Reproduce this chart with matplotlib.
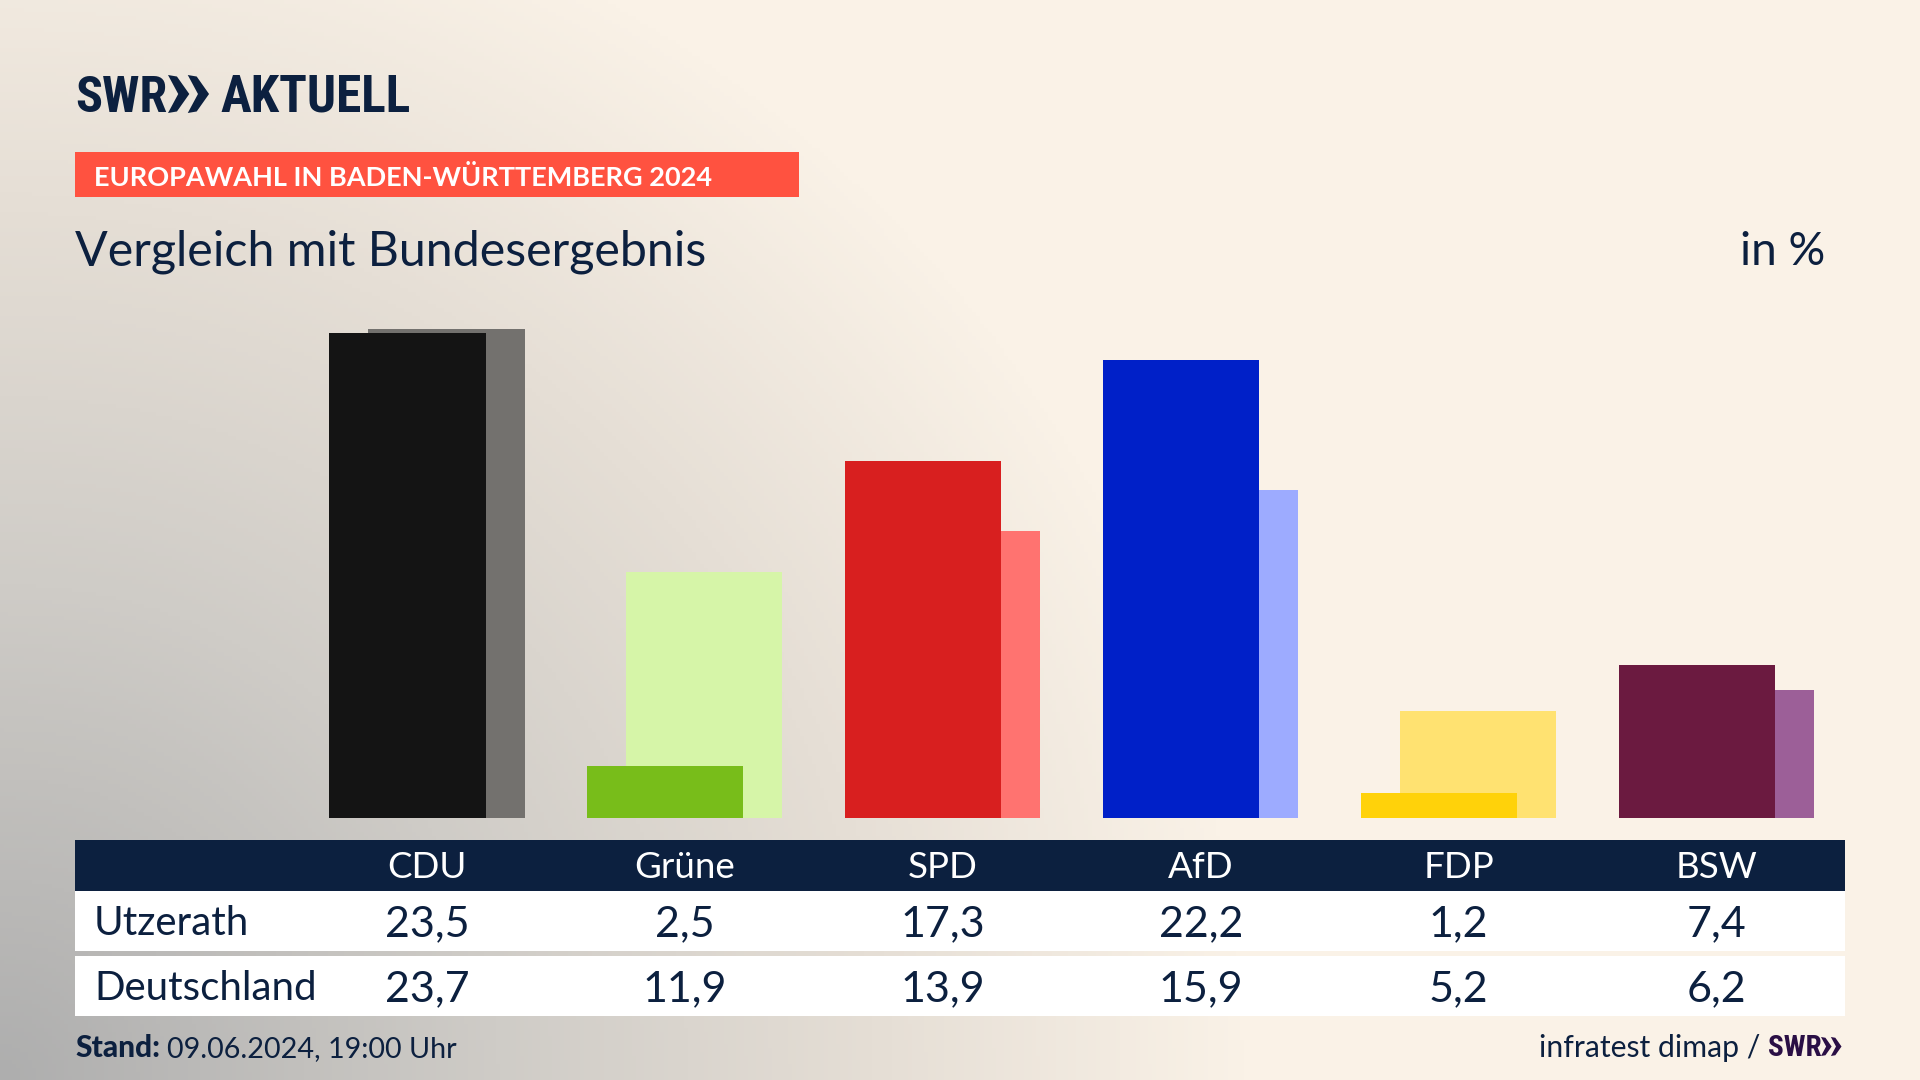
"""SWR Aktuell election graphic: Utzerath vs. Bundesergebnis."""

import matplotlib

matplotlib.use("Agg")
import matplotlib.pyplot as plt
import numpy as np
from matplotlib.colors import LinearSegmentedColormap
from matplotlib.patches import Polygon, Rectangle

PARTIES = ["CDU", "Grüne", "SPD", "AfD", "FDP", "BSW"]
UTZERATH = [23.5, 2.5, 17.3, 22.2, 1.2, 7.4]
DEUTSCHLAND = [23.7, 11.9, 13.9, 15.9, 5.2, 6.2]
FRONT_COLORS = ["#141414", "#78bd1a", "#d81f1f", "#0020c8", "#ffd20a", "#6b1a40"]
BACK_COLORS = ["#73716e", "#d6f5a8", "#ff7370", "#9dabff", "#ffe271", "#9c5f98"]

NAVY = "#0c203f"
FONT = "Lato"
LOGO_FONT = ["Roboto Condensed", "Asap Condensed", "Lato"]
W, H = 1920, 1080

plt.rcParams["font.family"] = [FONT, "DejaVu Sans"]


def chevrons(ax, x, y, h, color):
    # two arrow heads of the SWR logo, pixel coords
    step = h * 0.52
    w = h * 0.56
    for i in range(2):
        x0 = x + i * step
        ax.add_patch(Polygon(
            [(x0, y), (x0 + w * 0.42, y + h * 0.04), (x0 + w, y + h / 2),
             (x0 + w * 0.42, y + h * 0.96), (x0, y + h), (x0 + w * 0.48, y + h / 2)],
            closed=True, facecolor=color, edgecolor="none"))


fig = plt.figure(figsize=(W / 100, H / 100), dpi=100)

# page layer in pixel coordinates
page = fig.add_axes([0, 0, 1, 1])
page.set_xlim(0, W)
page.set_ylim(H, 0)
page.axis("off")

yy, xx = np.mgrid[0:1:270j, 0:1:480j]
dist = np.sqrt((xx / 0.65) ** 2 + ((1 - yy) / 1.15) ** 2)
shade = np.clip(dist, 0, 1)
cmap = LinearSegmentedColormap.from_list(
    "bg", [(0, "#aeaeae"), (0.4, "#cfccc7"), (0.7, "#e5ded5"), (1, "#faf2e7")])
page.imshow(shade, cmap=cmap, extent=(0, W, H, 0), aspect="auto", zorder=0)

# header
page.text(75, 112, "SWR", fontsize=36, fontweight="bold", color=NAVY,
          family=LOGO_FONT, va="baseline", ha="left")
chevrons(page, 168, 75, 38, NAVY)
page.text(220, 112, "AKTUELL", fontsize=37, fontweight="bold", color=NAVY,
          family=LOGO_FONT, va="baseline", ha="left")

page.add_patch(Rectangle((75, 152), 724, 45, facecolor="#ff5240", edgecolor="none"))
page.text(94, 175, "EUROPAWAHL IN BADEN-WÜRTTEMBERG 2024", fontsize=19.5,
          fontweight="bold", color="white", va="center_baseline", ha="left")
page.text(75, 248, "Vergleich mit Bundesergebnis", fontsize=34.8, color=NAVY,
          va="center_baseline", ha="left")
page.text(1825, 248, "in %", fontsize=33, color=NAVY,
          va="center_baseline", ha="right")

# table
page.add_patch(Rectangle((75, 840), 1770, 51, facecolor=NAVY, edgecolor="none"))
page.add_patch(Rectangle((75, 891), 1770, 60, facecolor="white", edgecolor="none"))
page.add_patch(Rectangle((75, 956), 1770, 60, facecolor="white", edgecolor="none"))

centers = 427 + 257.9 * np.arange(len(PARTIES))


def fmt(v):
    return f"{v:.1f}".replace(".", ",")


page.text(94, 920, "Utzerath", fontsize=29, color=NAVY, va="center_baseline")
page.text(94, 985, "Deutschland", fontsize=29, color=NAVY, va="center_baseline")
for cx, party, a, b in zip(centers, PARTIES, UTZERATH, DEUTSCHLAND):
    page.text(cx, 865, party, fontsize=26.5, color="white",
              ha="center", va="center_baseline")
    page.text(cx, 921, fmt(a), fontsize=31, color=NAVY,
              ha="center", va="center_baseline")
    page.text(cx, 986, fmt(b), fontsize=31, color=NAVY,
              ha="center", va="center_baseline")

# footer
page.text(75, 1057, "Stand:", fontsize=21.5, fontweight="black", color=NAVY, va="baseline")
page.text(167, 1057, "09.06.2024, 19:00 Uhr", fontsize=20.7, color=NAVY, va="baseline")
page.text(1760, 1057, "infratest dimap /", fontsize=21.7, color=NAVY,
          ha="right", va="baseline")
page.text(1768, 1056, "SWR", fontsize=21, fontweight="bold", color="#2a0f45",
          family=LOGO_FONT, va="baseline")
chevrons(page, 1821, 1037, 19, "#2a0f45")

# bars, on their own axes: x in party index, y in percent
px_per_unit = 20.65
bar_top, bar_bottom = 300, 818
ax = fig.add_axes([75 / W, 1 - bar_bottom / H, 1770 / W, (bar_bottom - bar_top) / H])
ax.patch.set_alpha(0)
ax.axis("off")
ax.set_xlim((75 - centers[0]) / 257.9, (1845 - centers[0]) / 257.9)
ax.set_ylim(0, (bar_bottom - bar_top) / px_per_unit)

xpos = np.arange(len(PARTIES))
width = 0.605
offset = 0.0756
ax.bar(xpos + offset, DEUTSCHLAND, width, color=BACK_COLORS, linewidth=0, clip_on=False)
ax.bar(xpos - offset, UTZERATH, width, color=FRONT_COLORS, linewidth=0, clip_on=False)

fig.savefig("out.png", dpi=100)
